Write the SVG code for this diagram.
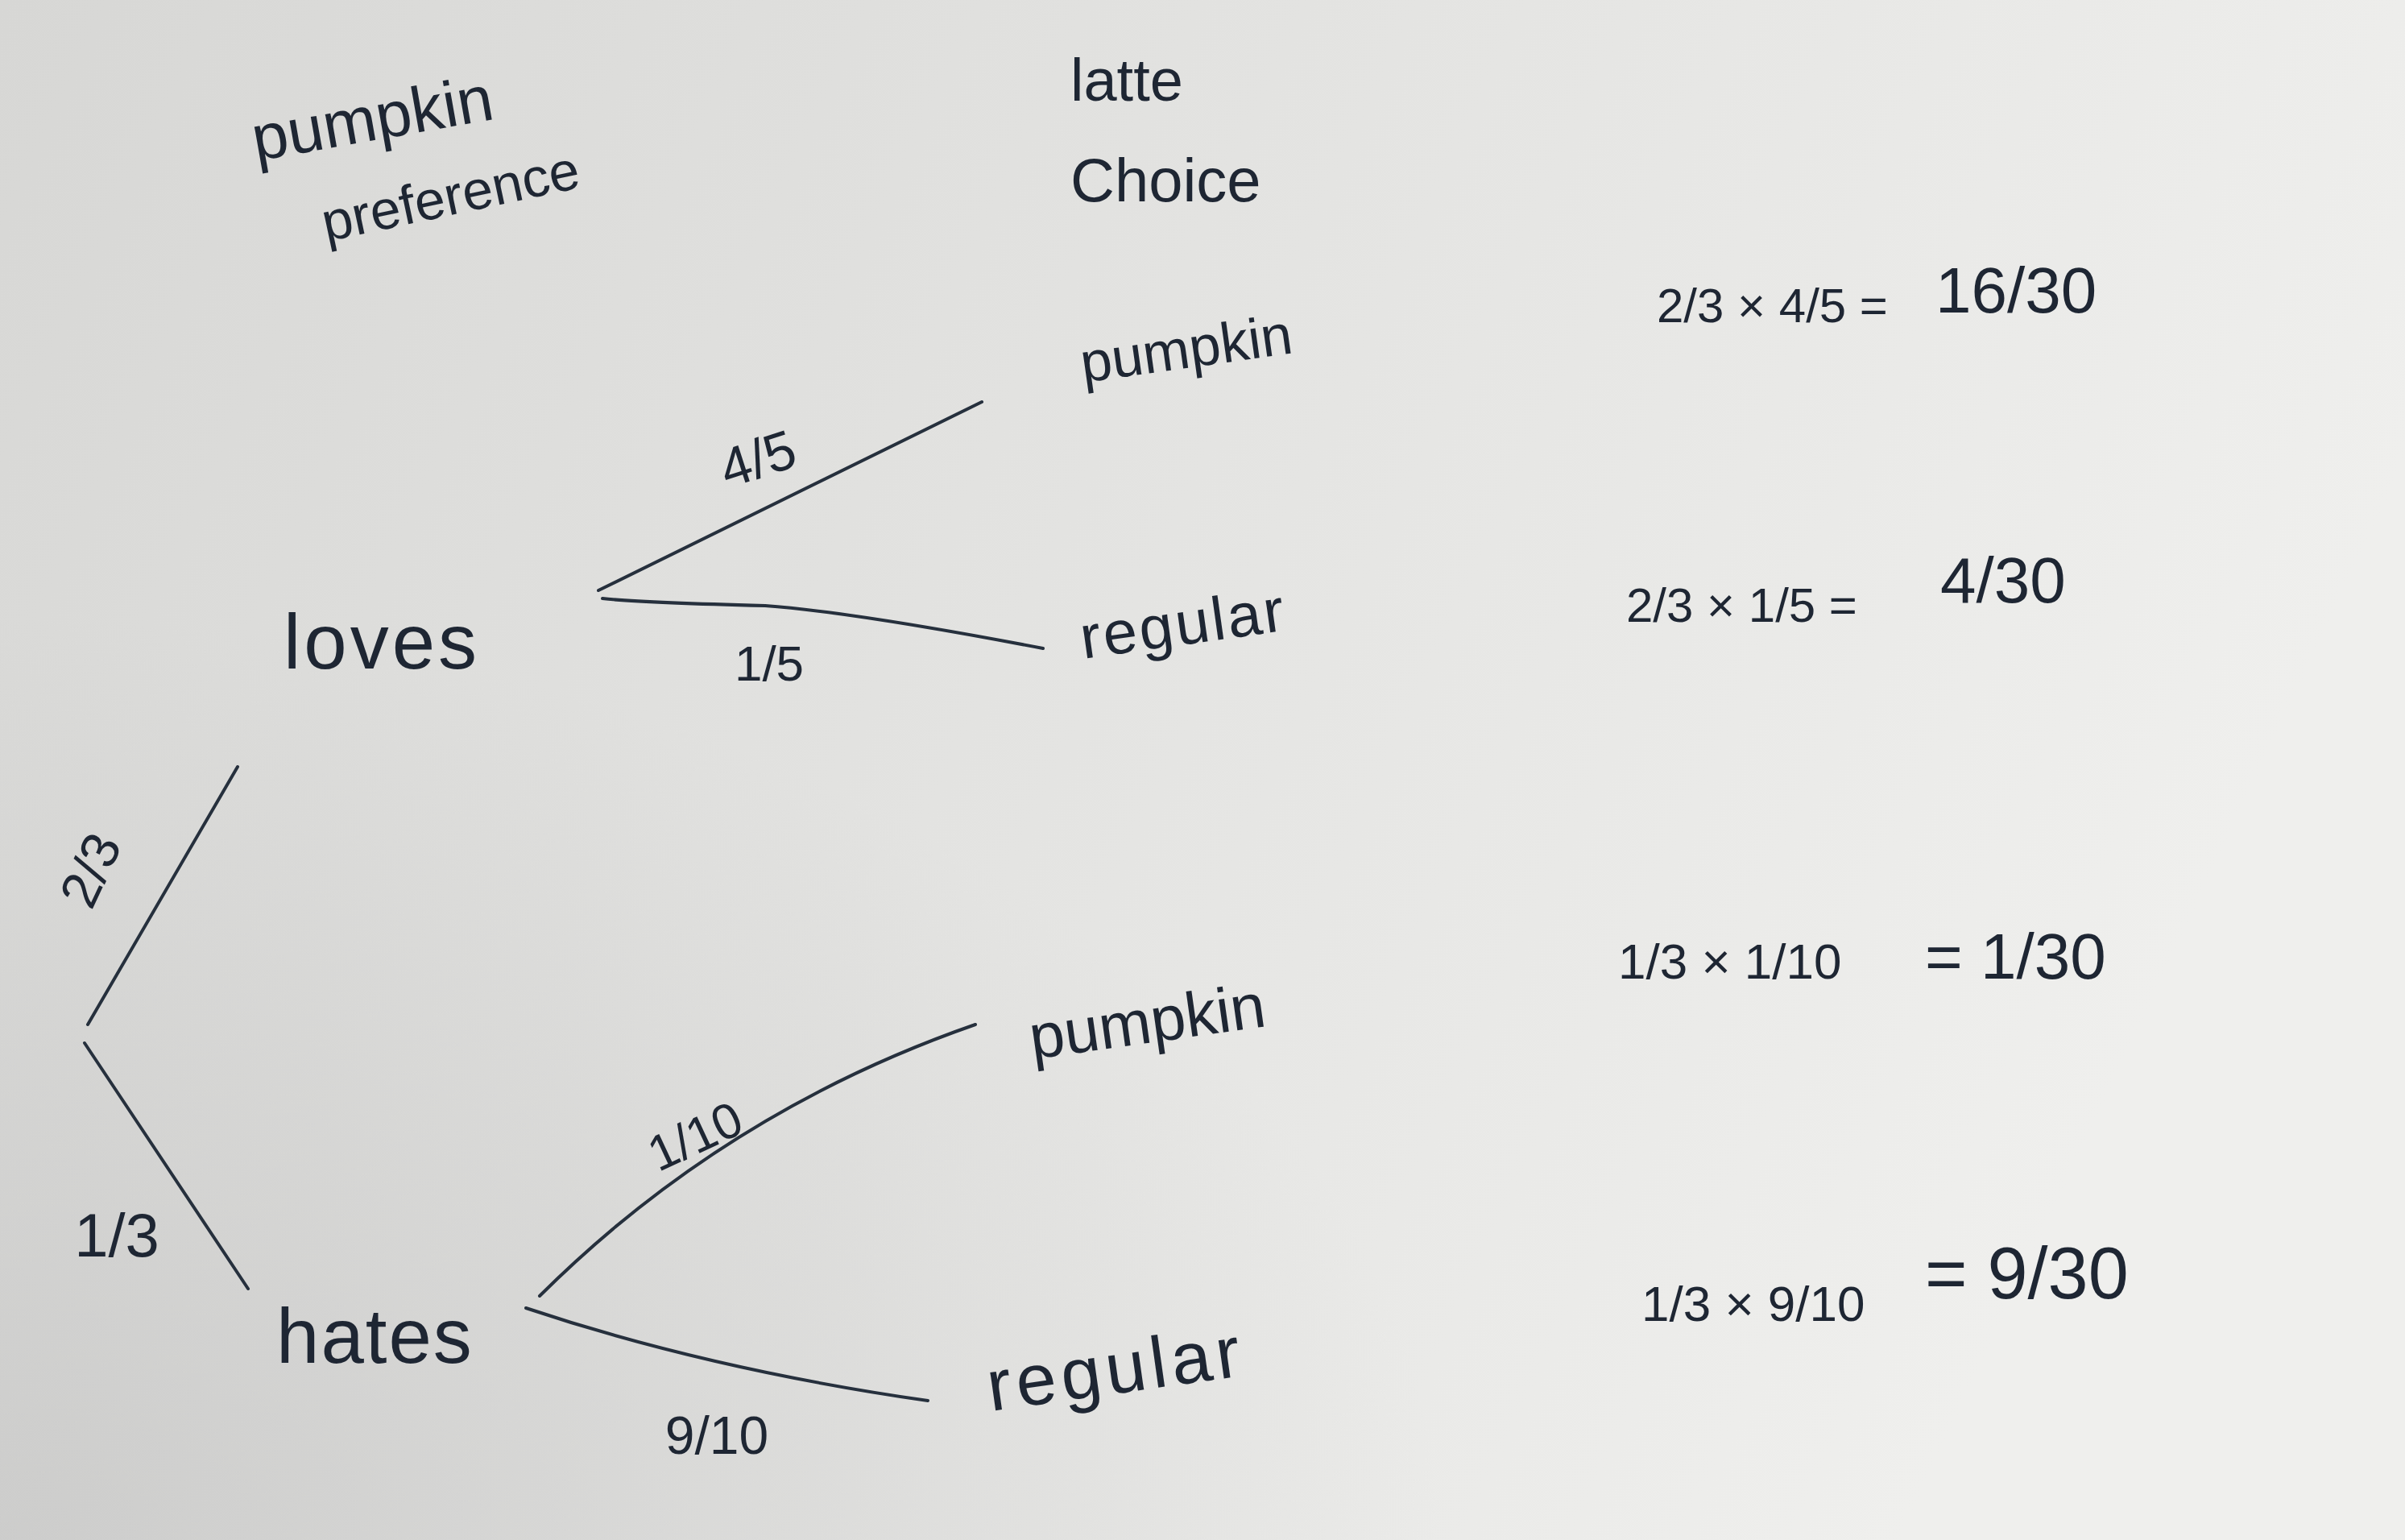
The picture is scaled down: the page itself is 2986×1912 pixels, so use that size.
<svg xmlns="http://www.w3.org/2000/svg" width="2986" height="1912" viewBox="0 0 2986 1912">
<defs>
<linearGradient id="paper" x1="0" y1="0" x2="1" y2="0.3">
<stop offset="0" stop-color="#d7d7d5"/>
<stop offset="0.5" stop-color="#e3e3e1"/>
<stop offset="1" stop-color="#efefed"/>
</linearGradient>
<radialGradient id="shade" cx="0" cy="1" r="0.6">
<stop offset="0" stop-color="#b8b8b8" stop-opacity="0.45"/>
<stop offset="1" stop-color="#b8b8b8" stop-opacity="0"/>
</radialGradient>
<style>
.t{font-family:"Liberation Sans","DejaVu Sans",sans-serif;fill:#1e2633;}
.e{fill:none;stroke:#26303d;stroke-width:4;stroke-linecap:round;}
</style>
</defs>
<rect width="2986" height="1912" fill="url(#paper)"/>
<rect width="2986" height="1912" fill="url(#shade)"/>
<g id="connectors">
<path class="e" d="M109,1272 L295,952"/>
<path class="e" d="M105,1295 L308,1600"/>
<path class="e" d="M743,733 L1219,499"/>
<path class="e" d="M748,743 Q790,748 950,752 Q1060,760 1295,805"/>
<path class="e" d="M670,1609 Q900,1380 1211,1272"/>
<path class="e" d="M653,1624 Q880,1700 1152,1739"/>
<text class="t" font-size="66" transform="translate(133,1090) rotate(-65)" text-anchor="middle">2/3</text>
<text class="t" font-size="76" transform="translate(145,1560)" text-anchor="middle">1/3</text>
<text class="t" font-size="68" transform="translate(948,592) rotate(-18)" text-anchor="middle">4/5</text>
<text class="t" font-size="62" transform="translate(955,845)" text-anchor="middle">1/5</text>
<text class="t" font-size="62" transform="translate(872,1430) rotate(-25)" text-anchor="middle">1/10</text>
<text class="t" font-size="66" transform="translate(890,1805)" text-anchor="middle">9/10</text>
</g>
<g id="header-pumpkin-preference">
<text class="t" font-size="80" transform="translate(318,200) rotate(-10)">pumpkin</text>
<text class="t" font-size="68" transform="translate(405,300) rotate(-12)">preference</text>
</g>
<g id="header-latte-choice">
<text class="t" font-size="74" x="1329" y="125">latte</text>
<text class="t" font-size="76" x="1329" y="250">Choice</text>
</g>
<g id="node-loves">
<text class="t" font-size="96" letter-spacing="4" x="352" y="830">loves</text>
</g>
<g id="node-hates">
<text class="t" font-size="96" letter-spacing="2" x="343" y="1692">hates</text>
</g>
<g id="node-loves-pumpkin">
<text class="t" font-size="70" transform="translate(1345,475) rotate(-8)">pumpkin</text>
</g>
<g id="node-loves-regular">
<text class="t" font-size="76" letter-spacing="3" transform="translate(1345,818) rotate(-8)">regular</text>
</g>
<g id="node-hates-pumpkin">
<text class="t" font-size="78" transform="translate(1282,1315) rotate(-8)">pumpkin</text>
</g>
<g id="node-hates-regular">
<text class="t" font-size="90" letter-spacing="6" transform="translate(1230,1752) rotate(-8)">regular</text>
</g>
<g id="result-1">
<text class="t" font-size="60" x="2057" y="400">2/3 × 4/5 =</text>
<text class="t" font-size="80" x="2403" y="388">16/30</text>
</g>
<g id="result-2">
<text class="t" font-size="60" x="2019" y="772">2/3 × 1/5 =</text>
<text class="t" font-size="80" x="2409" y="748">4/30</text>
</g>
<g id="result-3">
<text class="t" font-size="62" x="2009" y="1215">1/3 × 1/10</text>
<text class="t" font-size="80" x="2390" y="1215">= 1/30</text>
</g>
<g id="result-4">
<text class="t" font-size="62" x="2038" y="1640">1/3 × 9/10</text>
<text class="t" font-size="90" x="2390" y="1612">= 9/30</text>
</g>
</svg>
